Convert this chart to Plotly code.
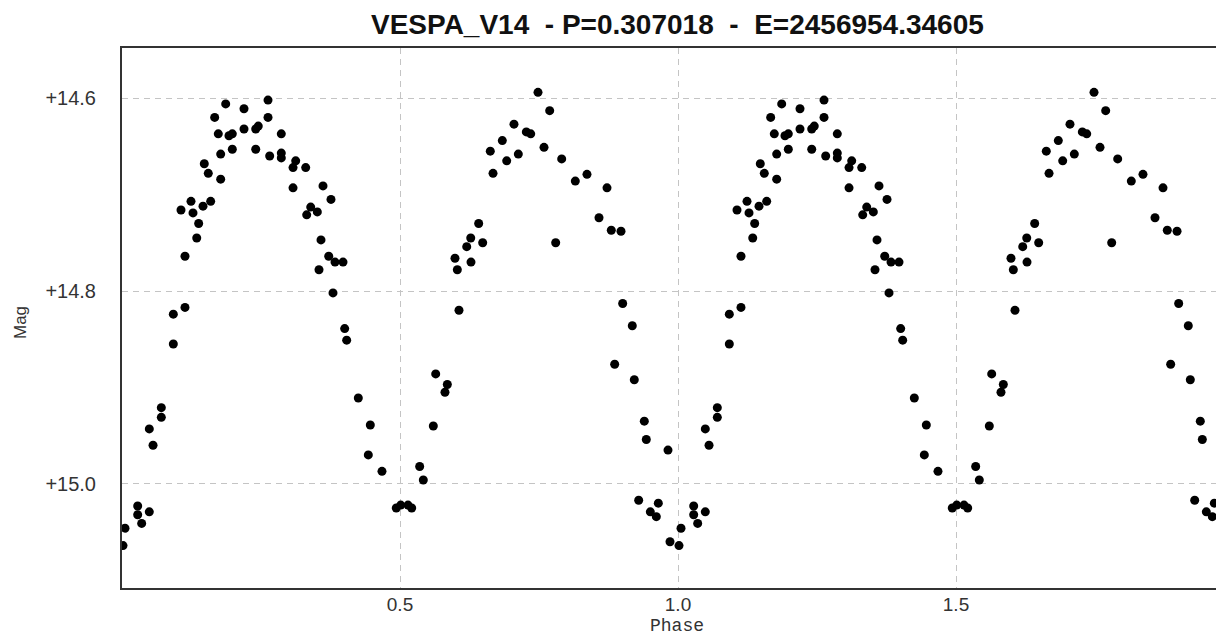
import plotly.graph_objects as go

# Phase-folded light curve of VESPA_V14 (one cycle; plotted twice)
phase = [
    0.1865, 0.1667, 0.2194, 0.2626, 0.2626, 0.1732, 0.1924, 0.1984, 0.2194, 0.2405,
    0.2451, 0.2865, 0.1775, 0.1984, 0.2405, 0.2656, 0.2865, 0.2865, 0.3124, 0.3076,
    0.3304, 0.3076, 0.1480, 0.1552, 0.1775, 0.1061, 0.1241, 0.1277, 0.1457, 0.1595,
    0.1379, 0.1344, 0.1133, 0.0923, 0.1133, 0.0923, 0.0707, 0.0707, 0.0491, 0.0558,
    0.0282, 0.0282, 0.0354, 0.0491, 0.0054, 0.0018, 0.3615, 0.3759, 0.3394, 0.3513,
    0.3322, 0.3579, 0.3718, 0.3831, 0.3975, 0.3543, 0.3795, 0.4005, 0.4041, 0.4250,
    0.4466, 0.4430, 0.4676, 0.4933, 0.5013, 0.5144, 0.5210, 0.5642, 0.5851, 0.5809,
    0.5599, 0.5354, 0.5419, 0.6624, 0.6673, 0.6415, 0.6272, 0.6200, 0.6487, 0.5989,
    0.6277, 0.6031, 0.6061, 0.7482, 0.7692, 0.7050, 0.7272, 0.7351, 0.6840, 0.7590,
    0.7128, 0.6919, 0.7908, 0.8153, 0.8363, 0.8723, 0.8579, 0.8800, 0.8975, 0.7800,
    0.9005, 0.9178, 0.8861, 0.9214, 0.9394, 0.9430, 0.9820, 0.9293, 0.9646, 0.9502,
    0.9610, 0.9856,
]
mag = [
    14.606, 14.620, 14.611, 14.602, 14.620, 14.637, 14.639, 14.637, 14.632, 14.632,
    14.629, 14.637, 14.658, 14.653, 14.653, 14.660, 14.657, 14.662, 14.665, 14.672,
    14.672, 14.693, 14.668, 14.678, 14.684, 14.716, 14.707, 14.719, 14.712, 14.707,
    14.730, 14.745, 14.764, 14.824, 14.817, 14.855, 14.921, 14.931, 14.943, 14.960,
    15.023, 15.032, 15.041, 15.029, 15.046, 15.064, 14.691, 14.705, 14.713, 14.718,
    14.721, 14.747, 14.764, 14.770, 14.770, 14.778, 14.802, 14.839, 14.851, 14.911,
    14.939, 14.970, 14.987, 15.025, 15.022, 15.022, 15.025, 14.886, 14.897, 14.905,
    14.940, 14.982, 14.996, 14.655, 14.678, 14.730, 14.745, 14.754, 14.750, 14.766,
    14.770, 14.778, 14.820, 14.594, 14.613, 14.627, 14.635, 14.637, 14.644, 14.651,
    14.658, 14.665, 14.663, 14.686, 14.679, 14.693, 14.724, 14.737, 14.738, 14.750,
    14.813, 14.836, 14.876, 14.892, 14.935, 14.954, 14.965, 15.017, 15.020, 15.029,
    15.034, 15.060,
]

x_ticks = [0.5, 1.0, 1.5]
y_ticks = [14.6, 14.8, 15.0]
title_text = "VESPA_V14\u00a0\u00a0- P=0.307018\u00a0\u00a0-\u00a0\u00a0E=2456954.34605"

x_all = phase + [p + 1 for p in phase]
y_all = mag + mag

OFF = 8  # page body margin
W, H = 1216, 627
L, R, T, B = 114, 0, 40, 47
pw, ph = W - L - R, H - T - B


def px(sx):
    return (sx - OFF - L) / pw


def py(sy):
    return (H - B - (sy - OFF)) / ph


fig = go.Figure()
fig.add_trace(go.Scatter(
    x=x_all, y=y_all, mode="markers",
    marker=dict(color="#000000", size=9, line=dict(width=0)),
    hoverinfo="x+y", showlegend=False,
))

fig.update_layout(
    width=W, height=H,
    margin=dict(l=L, r=R, t=T, b=B, pad=0),
    paper_bgcolor="white", plot_bgcolor="white",
    font=dict(family="Liberation Sans, Arial, sans-serif", color="#333333"),
    xaxis=dict(
        range=[0, 1.982], tickvals=x_ticks, ticktext=[f"{v:.1f}" for v in x_ticks],
        showgrid=True, gridcolor="#c4c4c4", gridwidth=1, griddash="6px,5px",
        zeroline=False, showline=True, linecolor="#333333", linewidth=2, mirror=True,
        ticks="", tickfont=dict(size=19, color="#333333"), ticklabelstandoff=-2,
    ),
    yaxis=dict(
        range=[15.108, 14.548], tickvals=y_ticks,
        ticktext=[f"+{v:.1f}" for v in y_ticks],
        showgrid=True, gridcolor="#c4c4c4", gridwidth=1, griddash="6px,5px",
        zeroline=False, showline=True, linecolor="#333333", linewidth=2, mirror=False,
        ticks="", tickfont=dict(size=20, color="#333333"), ticklabelstandoff=20,
    ),
    annotations=[
        dict(text="<b>" + title_text + "</b>", xref="paper", yref="paper",
             x=px(677.5), y=py(24.5), xanchor="center", yanchor="middle",
             showarrow=False, font=dict(size=28, color="#111111",
                                        family="Liberation Sans, Arial, sans-serif")),
        dict(text="Mag", xref="paper", yref="paper",
             x=px(20), y=py(323), xanchor="center", yanchor="middle",
             textangle=-90, showarrow=False, font=dict(size=17, color="#333333")),
        dict(text="Phase", xref="paper", yref="paper",
             x=px(677), y=py(626), xanchor="center", yanchor="middle",
             showarrow=False,
             font=dict(size=18, color="#333333", family="Liberation Mono, Courier New, monospace")),
    ],
)

fig.write_html("out.html", config={"displayModeBar": False})
